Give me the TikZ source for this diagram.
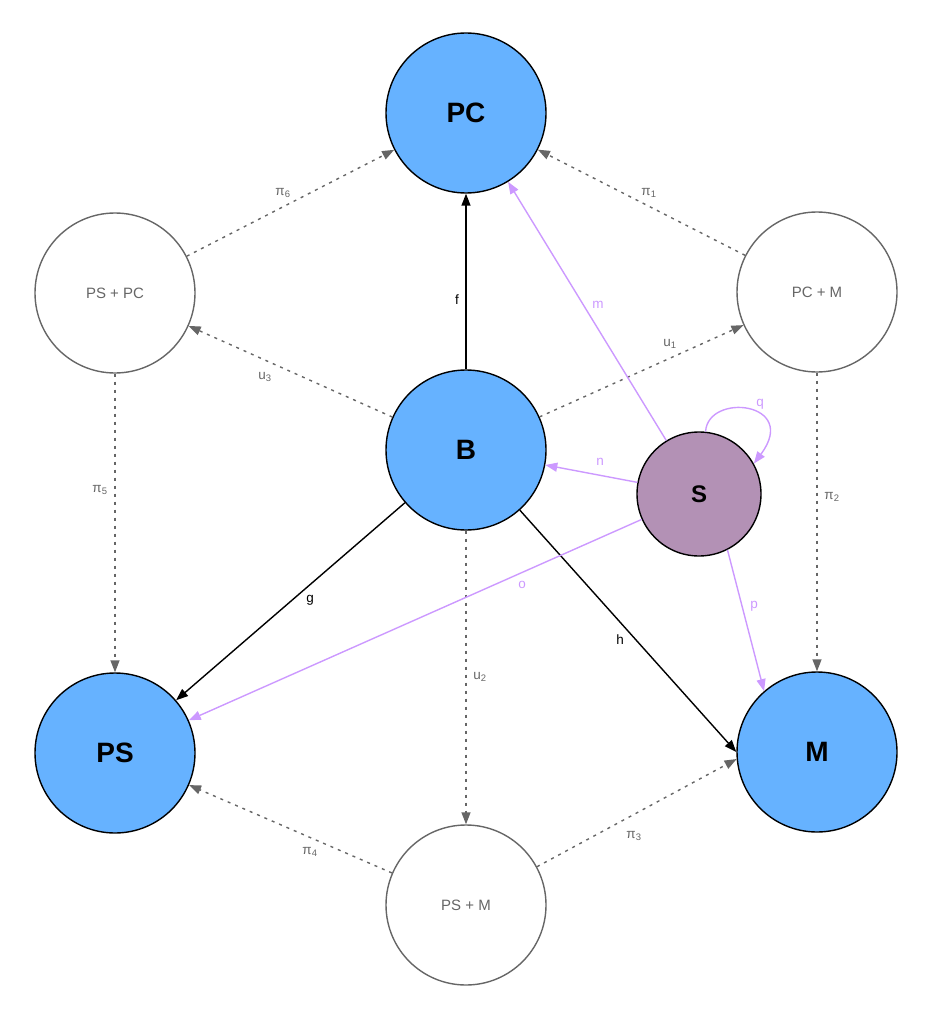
\documentclass[tikz,border=0pt]{standalone}
\usepackage{fontspec}
\setmainfont{Liberation Sans}
\usetikzlibrary{arrows.meta}
\definecolor{nodeblue}{HTML}{66B2FF}
\definecolor{spurple}{HTML}{B391B5}
\definecolor{lilac}{HTML}{CC99FF}
\definecolor{dashgray}{HTML}{666666}

\begin{document}
\begin{tikzpicture}[x=1pt, y=-1pt,
    main/.style={circle, draw=black, line width=1.4pt, fill=nodeblue, minimum size=160pt, inner sep=0pt, font=\fontsize{28}{30}\selectfont\bfseries},
    prod/.style={circle, draw=dashgray, line width=1.4pt, fill=white, minimum size=160pt, inner sep=0pt, text=dashgray, font=\fontsize{15}{17}\selectfont},
    src/.style={circle, draw=black, line width=1.4pt, fill=spurple, minimum size=124pt, inner sep=0pt, font=\fontsize{24}{26}\selectfont\bfseries},
    arr/.style={-{Triangle[length=12pt, width=9pt]}, line width=1.4pt},
    darr/.style={arr, dashgray, dash pattern=on 3pt off 5pt},
    parr/.style={arr, lilac},
    lbl/.style={font=\fontsize{13.5}{15}\selectfont},
    glbl/.style={lbl, text=dashgray},
    plbl/.style={lbl, text=lilac}
]
\useasboundingbox (0,0) rectangle (933,1024);

% objects
\node[main] (pc) at (466,113) {PC};
\node[main] (b)  at (466,450) {B};
\node[main] (ps) at (115,753) {PS};
\node[main] (m)  at (817,752) {M};
\node[prod] (pspc) at (115,293) {PS + PC};
\node[prod] (pcm)  at (817,292) {PC + M};
\node[prod] (psm)  at (466,905) {PS + M};
\node[src] (s) at (699,494) {S};

% projections
\draw[darr] (pspc) -- (pc);
\draw[darr] (pcm) -- (pc);
\draw[darr] (pspc) -- (ps);
\draw[darr] (pcm) -- (m);
\draw[darr] (psm) -- (ps);
\draw[darr] (psm) -- (m.185);

% mediating maps
\draw[darr] (b) -- (pspc);
\draw[darr] (b) -- (pcm);
\draw[darr] (b) -- (psm);

% maps from B
\draw[arr] (b) -- (pc);
\draw[arr] (b) -- (ps);
\draw[arr] (b) -- (m.west);

% maps from S
\draw[parr] (s) -- (pc);
\draw[parr] (s) -- (b);
\draw[parr] (s) -- (ps);
\draw[parr] (s.-63) -- (m.131);
\draw[parr] (s.84) .. controls (708,392) and (800,402) .. (s.29);

% labels
\node[lbl] (lf) at (457,300) {f};
\node[lbl] (lg) at (310,600) {g};
\node[lbl] (lh) at (620,640) {h};
\node[glbl] (lu1) at (670,344) {u\textsubscript{1}};
\node[glbl] (lu2) at (480,677) {u\textsubscript{2}};
\node[glbl] (lu3) at (265,377) {u\textsubscript{3}};
\node[glbl] (lp1) at (649,193) {π\textsubscript{1}};
\node[glbl] (lp2) at (832,497) {π\textsubscript{2}};
\node[glbl] (lp3) at (634,836) {π\textsubscript{3}};
\node[glbl] (lp4) at (310,852) {π\textsubscript{4}};
\node[glbl] (lp5) at (100,490) {π\textsubscript{5}};
\node[glbl] (lp6) at (283,193) {π\textsubscript{6}};
\node[plbl] (lm) at (598,305) {m};
\node[plbl] (ln) at (600,462) {n};
\node[plbl] (lo) at (522,585) {o};
\node[plbl] (lp) at (754,606) {p};
\node[plbl] (lq) at (760,404) {q};
\end{tikzpicture}
\end{document}
